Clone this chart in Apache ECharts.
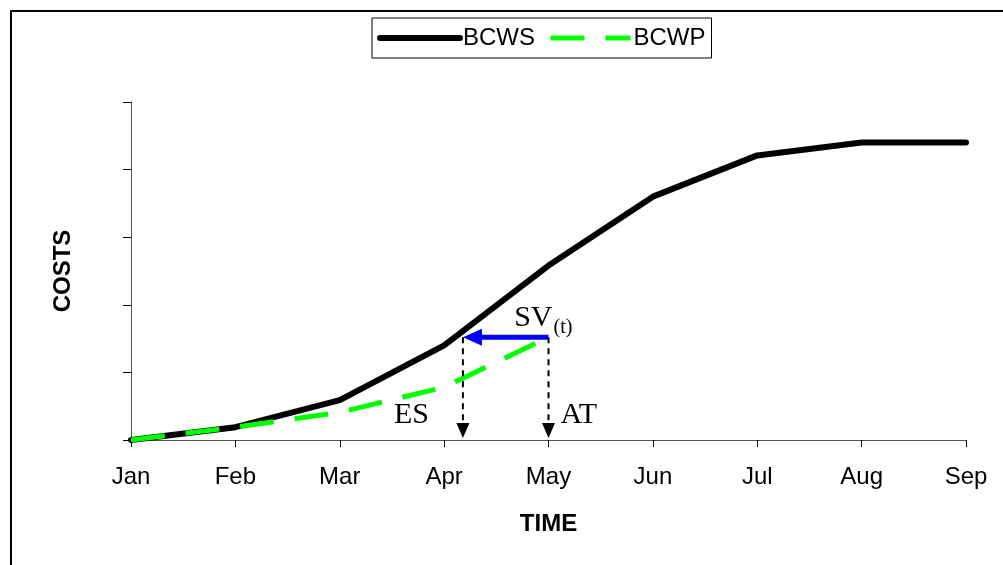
<!DOCTYPE html>
<html>
<head>
<meta charset="utf-8">
<script src="https://cdn.jsdelivr.net/npm/echarts@6/dist/echarts.min.js"></script>
<style>
  html, body { margin: 0; padding: 0; background: #fff; }
  #chart { width: 1003px; height: 565px; }
</style>
</head>
<body>
<div id="chart"></div>
<script>
// Months on the time axis (index 0 = Jan)
const months = ['Jan', 'Feb', 'Mar', 'Apr', 'May', 'Jun', 'Jul', 'Aug', 'Sep'];
// Planned value (budgeted cost of work scheduled), cumulative
const bcws = [0, 0.19, 0.59, 1.40, 2.58, 3.60, 4.21, 4.40, 4.40];
// Earned value (budgeted cost of work performed), known up to May
const bcwp = [0, 0.19, 0.41, 0.78, 1.52];
// Cost axis ticks (unlabelled)
const costTicks = [0, 1, 2, 3, 4, 5];
// Earned schedule and actual time, in months from Jan
const esTime = 3.18;
const atTime = 4;

const sans = 'Liberation Sans, Arial, sans-serif';
const serif = 'Liberation Serif, Times New Roman, serif';

const chart = echarts.init(document.getElementById('chart'), null, { renderer: 'canvas' });

chart.setOption({
  animation: false,
  backgroundColor: '#fff',
  grid: { left: 131, right: 37, top: 102, bottom: 125 },
  legend: {
    left: 372,
    top: 18,
    padding: [8, 6, 8, 5],
    borderColor: '#000',
    borderWidth: 1,
    itemWidth: 80,
    itemHeight: 24,
    itemGap: 13,
    // plain line keys, no marker dot
    itemStyle: { opacity: 0, borderWidth: 0 },
    lineStyle: { width: 'inherit' },
    textStyle: { fontFamily: sans, fontSize: 24, color: '#000', padding: [0, 0, 0, -2] },
    data: ['BCWS', 'BCWP']
  },
  xAxis: {
    type: 'value',
    min: 0,
    max: months.length - 1,
    interval: 1,
    name: 'TIME',
    nameLocation: 'middle',
    nameGap: 72,
    nameTextStyle: { fontFamily: sans, fontSize: 24, fontWeight: 'bold', color: '#000' },
    axisLine: { show: true, lineStyle: { color: '#555', width: 1 } },
    axisTick: { show: true, length: 7, lineStyle: { color: '#000' } },
    axisLabel: {
      formatter: v => months[v],
      fontFamily: sans, fontSize: 24, color: '#000', margin: 25
    },
    splitLine: { show: false }
  },
  yAxis: {
    type: 'value',
    min: costTicks[0],
    max: costTicks[costTicks.length - 1],
    interval: 1,
    name: 'COSTS',
    nameLocation: 'middle',
    nameGap: 56,
    nameRotate: 90,
    nameTextStyle: { fontFamily: sans, fontSize: 24, fontWeight: 'bold', color: '#000' },
    axisLine: { show: true, lineStyle: { color: '#555', width: 1 } },
    axisTick: { show: true, length: 8, lineStyle: { color: '#000' } },
    axisLabel: { show: false },
    splitLine: { show: false }
  },
  series: [
    {
      name: 'BCWS',
      type: 'line',
      symbol: 'none',
      z: 2,
      lineStyle: { color: '#000', width: 6, cap: 'round' },
      itemStyle: { color: '#000' },
      data: bcws.map((v, i) => [i, v])
    },
    {
      name: 'BCWP',
      type: 'line',
      symbol: 'none',
      z: 3,
      lineStyle: { color: '#00ff00', width: 5, type: [34, 21] },
      itemStyle: { color: '#00ff00' },
      data: bcwp.map((v, i) => [i, v])
    }
  ]
});

// Schedule-variance annotations placed through the grid's coordinate system
function annotate() {
  const px = (x, y) => chart.convertToPixel({ gridIndex: 0 }, [x, y]);
  const svLevel = bcwp[bcwp.length - 1];
  const atTop = px(atTime, svLevel);
  const esTop = px(esTime, svLevel);
  const atBase = px(atTime, 0);
  const esBase = px(esTime, 0);

  const dropLine = (top, base) => [
    {
      type: 'line', z: 10,
      shape: { x1: top[0], y1: top[1], x2: base[0], y2: base[1] - 16 },
      style: { stroke: '#000', lineWidth: 2, lineDash: [6, 5] }
    },
    {
      type: 'polygon', z: 10,
      shape: { points: [[base[0] - 6.5, base[1] - 17], [base[0] + 6.5, base[1] - 17], [base[0], base[1] - 2]] },
      style: { fill: '#000' }
    }
  ];

  const elements = [
    // chart frame
    {
      type: 'rect', z: 0, silent: true,
      shape: { x: 11, y: 11, width: 1200, height: 800 },
      style: { fill: 'none', stroke: '#000', lineWidth: 2 }
    },
    ...dropLine(esTop, esBase),
    ...dropLine(atTop, atBase),
    // SV(t) arrow, from actual time back to earned schedule
    {
      type: 'line', z: 11,
      shape: { x1: atTop[0], y1: atTop[1], x2: esTop[0] + 16, y2: esTop[1] },
      style: { stroke: '#0000ff', lineWidth: 5 }
    },
    {
      type: 'polygon', z: 11,
      shape: { points: [[esTop[0], esTop[1]], [esTop[0] + 19, esTop[1] - 8.5], [esTop[0] + 19, esTop[1] + 8.5]] },
      style: { fill: '#0000ff' }
    },
    {
      type: 'text', z: 12,
      style: { text: 'SV', x: atTop[0] + 4, y: atTop[1] - 19, align: 'right', verticalAlign: 'middle',
               font: '30px ' + serif, fill: '#000' }
    },
    {
      type: 'text', z: 12,
      style: { text: '(t)', x: atTop[0] + 5, y: atTop[1] - 9, align: 'left', verticalAlign: 'middle',
               font: '20px ' + serif, fill: '#000' }
    },
    {
      type: 'text', z: 12,
      style: { text: 'ES', x: esBase[0] - 34, y: esBase[1] - 25, align: 'right', verticalAlign: 'middle',
               font: '30px ' + serif, fill: '#000' }
    },
    {
      type: 'text', z: 12,
      style: { text: 'AT', x: atBase[0] + 12, y: atBase[1] - 25, align: 'left', verticalAlign: 'middle',
               font: '30px ' + serif, fill: '#000' }
    }
  ];
  chart.setOption({ graphic: elements });
}
annotate();
</script>
</body>
</html>
